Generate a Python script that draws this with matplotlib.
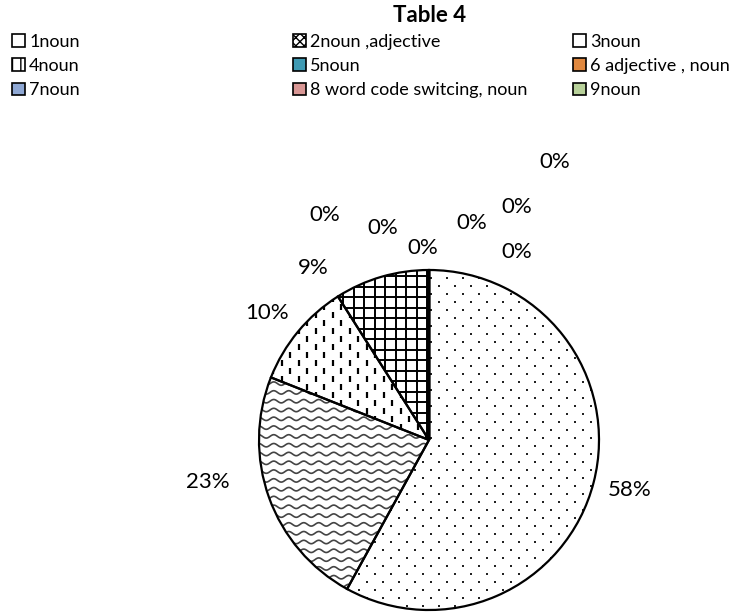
import numpy as np
import matplotlib
matplotlib.use("Agg")
import matplotlib.pyplot as plt
from matplotlib.patches import Patch
from matplotlib.collections import LineCollection

plt.rcParams['font.family'] = ['Lato', 'DejaVu Sans']

# data
categories = ["1noun", "2noun ,adjective", "3noun",
              "4noun", "5noun", "6 adjective , noun",
              "7noun", "8 word code switcing, noun", "9noun"]
values = [58, 23, 10, 9, 0, 0, 0, 0, 0, 0, 0]
legend_colors = ["white", "white", "white", "white", "#3F9AB3", "#E0883F",
                 "#8FA8D4", "#D99795", "#B8D19A"]
legend_hatch = [None, "xxxx", None, "||", None, None, None, None, None]

# layout (pixels, image coords: y down)
W, H = 746, 615
cx, cy, R = 429, 440, 170
label_xy = [(630, 490), (208, 482), (267, 313), (313, 268),
            (325, 215), (383, 228), (423, 248), (472, 223),
            (517, 252), (517, 207), (555, 162)]

fig = plt.figure(figsize=(W / 100, H / 100), dpi=100)
ax = fig.add_axes([0, 0, 1, 1])

wedges, _ = ax.pie(values, colors=["white"] * len(values), startangle=90,
                   counterclock=False, center=(cx, H - cy), radius=R,
                   wedgeprops=dict(linewidth=0, edgecolor="white"))

# fill patterns, clipped to each wedge
x0, x1 = cx - R - 20, cx + R + 20
y0, y1 = H - cy - R - 20, H - cy + R + 20

# 58% - staggered dots
pts = []
for k, yy in enumerate(np.arange(y0, y1, 8)):
    off = 8 if k % 2 else 0
    for xx in np.arange(x0 + off, x1, 16):
        pts.append((xx, yy))
pts = np.array(pts)
sc = ax.scatter(pts[:, 0], pts[:, 1], s=2.2, marker="s", color="#222222",
                linewidths=0, zorder=2)
sc.set_clip_path(wedges[0])

# 23% - waves
xs = np.linspace(x0, x1, 600)
waves = [np.column_stack([xs, yy + 1.7 * np.sin(2 * np.pi * xs / 15)])
         for yy in np.arange(y0, y1, 8.8)]
lc = LineCollection(waves, colors="#444444", linewidths=1.2, zorder=2)
ax.add_collection(lc)
lc.set_clip_path(wedges[1])

# 10% - dashed vertical
segs = []
for k, xx in enumerate(np.arange(x0, x1, 8.5)):
    off = 8 if k % 2 else 0
    for yy in np.arange(y0 + off, y1, 16):
        segs.append([(xx, yy), (xx, yy + 6)])
lc = LineCollection(segs, colors="black", linewidths=1.6, zorder=2)
ax.add_collection(lc)
lc.set_clip_path(wedges[2])

# 9% - grid
step = 10.5
segs = [[(xx, y0), (xx, y1)] for xx in np.arange(cx - 2 - step * 20, x1, step)]
segs += [[(x0, yy), (x1, yy)] for yy in np.arange(H - cy - 4 - step * 20, y1, step)]
lc = LineCollection(segs, colors="black", linewidths=1.4, zorder=2)
ax.add_collection(lc)
lc.set_clip_path(wedges[3])

# outlines on top
ax.pie(values, colors=["none"] * len(values), startangle=90,
       counterclock=False, center=(cx, H - cy), radius=R,
       wedgeprops=dict(linewidth=1.6, edgecolor="black", zorder=3))

# percentage labels
for v, (lx, ly) in zip(values, label_xy):
    ax.text(lx, H - ly, f"{v:.0f}%", ha="center", va="center",
            fontsize=16, color="black")

ax.set_xlim(0, W)
ax.set_ylim(0, H)
ax.set_aspect("equal")
ax.axis("off")

fig.text(430 / W, 1 - 16 / H, "Table 4", ha="center", va="center",
         fontsize=16, fontweight="bold")

# legend, three columns filled row by row
handles = [Patch(facecolor=c, edgecolor="black", hatch=h, linewidth=1.2)
           for c, h in zip(legend_colors, legend_hatch)]
col_x = [12, 293, 573]
for j in range(3):
    fig.legend(handles[j::3], categories[j::3], loc="upper left",
               bbox_to_anchor=(col_x[j] / W, 1 - 34 / H), frameon=False,
               fontsize=13, handlelength=0.7, handleheight=0.7,
               handletextpad=0.25, labelspacing=0.45, borderpad=0,
               borderaxespad=0)

fig.savefig("out.png", dpi=100, facecolor="white")
